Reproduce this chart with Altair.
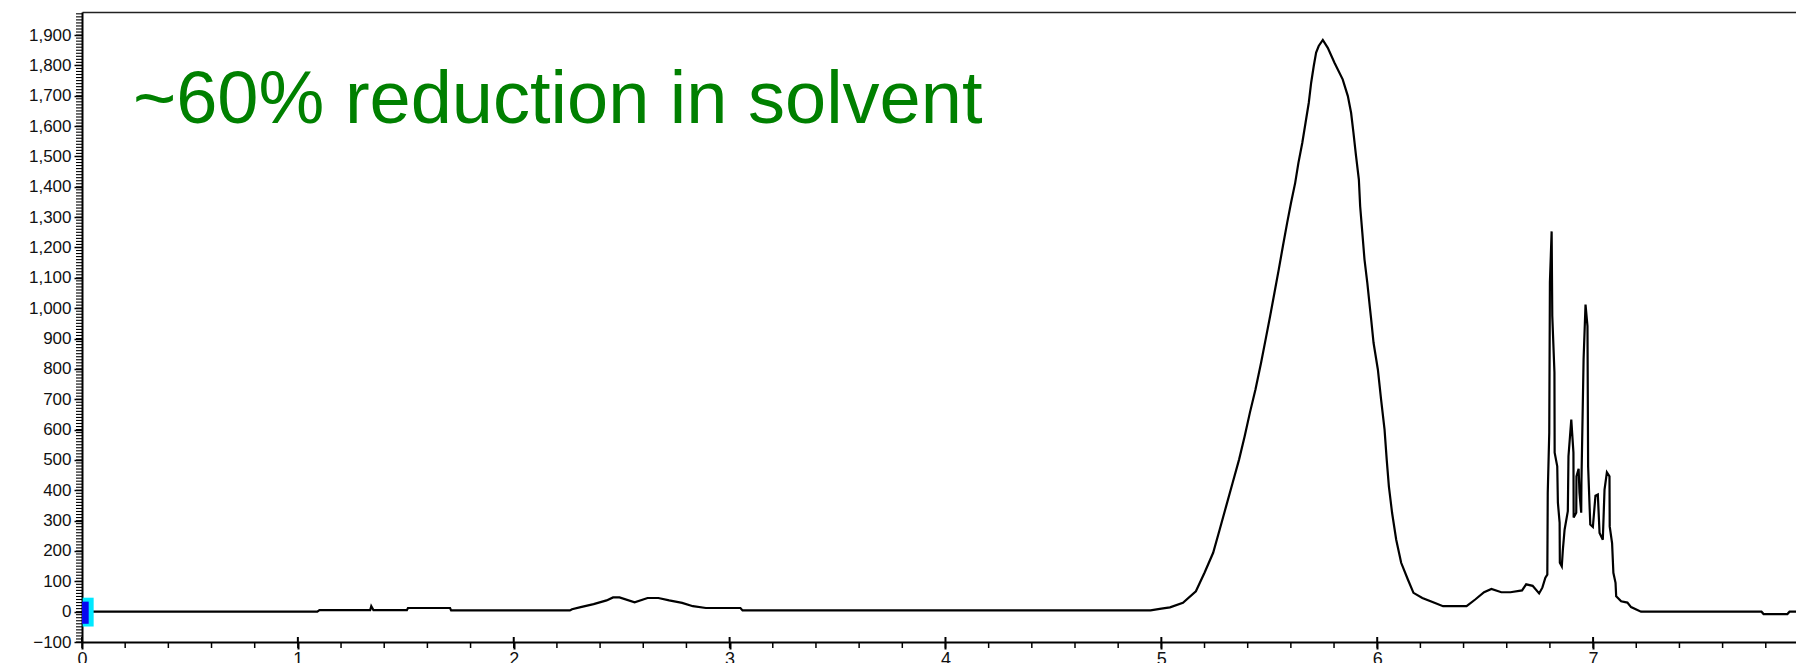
import altair as alt
import pandas as pd

# ---- data ----
ret_time = [
    0.0, 1.09, 1.10, 1.335, 1.34, 1.35, 1.505, 1.51, 1.705, 1.71,
    2.26, 2.27, 2.31, 2.37, 2.43, 2.46, 2.49, 2.56, 2.62, 2.67,
    2.72, 2.78, 2.83, 2.89, 3.05, 3.06, 4.95, 5.00, 5.04, 5.10,
    5.16, 5.20, 5.24, 5.27, 5.30, 5.33, 5.36, 5.386, 5.41, 5.436,
    5.462, 5.486, 5.504, 5.524, 5.544, 5.563, 5.583, 5.601, 5.620, 5.635,
    5.653, 5.668, 5.683, 5.694, 5.706, 5.717, 5.729, 5.748, 5.771, 5.802,
    5.840, 5.864, 5.879, 5.890, 5.902, 5.915, 5.921, 5.931, 5.941, 5.954,
    5.967, 5.972, 5.983, 6.003, 6.018, 6.034, 6.044, 6.054, 6.069, 6.088,
    6.111, 6.142, 6.168, 6.209, 6.265, 6.305, 6.414, 6.454, 6.495, 6.529,
    6.575, 6.617, 6.671, 6.690, 6.72, 6.75, 6.765, 6.779, 6.788, 6.790,
    6.797, 6.800, 6.808, 6.811, 6.821, 6.822, 6.834, 6.837, 6.845, 6.846,
    6.855, 6.860, 6.868, 6.883, 6.886, 6.899, 6.909, 6.910, 6.922, 6.923,
    6.933, 6.937, 6.945, 6.946, 6.956, 6.965, 6.974, 6.977, 6.987, 6.999,
    7.011, 7.022, 7.030, 7.045, 7.053, 7.064, 7.076, 7.077, 7.088, 7.094,
    7.104, 7.107, 7.130, 7.159, 7.176, 7.222, 7.78, 7.79, 7.90, 7.91,
    7.94,
]
signal = [
    0, 0, 5, 5, 18, 5, 5, 12, 12, 4,
    4, 8, 15, 25, 37, 47, 47, 31, 45, 45,
    37, 29, 18, 12, 12, 4, 4, 10, 14, 29,
    67, 128, 194, 270, 347, 424, 501, 578, 655, 732,
    820, 908, 974, 1051, 1128, 1204, 1282, 1348, 1413, 1479,
    1545, 1611, 1677, 1743, 1798, 1842, 1864, 1884, 1858, 1809,
    1754, 1699, 1644, 1578, 1501, 1424, 1336, 1249, 1161, 1084,
    996, 963, 886, 798, 699, 600, 501, 413, 325, 237,
    161, 106, 62, 45, 29, 18, 18, 40, 64, 75,
    64, 64, 70, 90, 85, 60, 79, 112, 122, 392,
    590, 1085, 1253, 974, 788, 524, 479, 359, 293, 161,
    149, 204, 270, 331, 512, 633, 524, 310, 326, 446,
    471, 392, 326, 425, 831, 1012, 941, 479, 287, 279,
    382, 386, 259, 237, 402, 459, 446, 281, 226, 128,
    95, 51, 34, 30, 15, 0, 0, -8, -8, 0,
    0,
]

# marker boxes at the origin (data units)
marker_x = [0.003, 0.0]
marker_x2 = [0.054, 0.031]
marker_y = [-49, -40]
marker_y2 = [46, 33]

x_major = [0, 1, 2, 3, 4, 5, 6, 7]
x_minor = [round(i * 0.2, 1) for i in range(0, 40)]
y_major = list(range(-100, 2000, 100))
y_minor = list(range(-100, 1980, 10))

annotation = ["~60% reduction in solvent"]

df = pd.DataFrame({"t": ret_time, "v": signal})
outer = pd.DataFrame({"x": [marker_x[0]], "x2": [marker_x2[0]], "y": [marker_y[0]], "y2": [marker_y2[0]]})
inner = pd.DataFrame({"x": [marker_x[1]], "x2": [marker_x2[1]], "y": [marker_y[1]], "y2": [marker_y2[1]]})
ann = pd.DataFrame({"label": annotation})
xminor_df = pd.DataFrame({"t": x_minor})
xmajor_df = pd.DataFrame({"t": x_major})
yminor_df = pd.DataFrame({"v": y_minor})

FONT = "Liberation Sans, Arial, sans-serif"
W, H = 1714, 630

xs = alt.Scale(domain=[0, 7.94], nice=False, zero=False)
ys = alt.Scale(domain=[-100, 1976], nice=False, zero=False)

main = alt.Chart(df).mark_line(color="black", strokeWidth=2.2).encode(
    x=alt.X("t:Q", scale=xs, axis=alt.Axis(
        orient="bottom", values=x_major, format="d", title=None, grid=False,
        domain=True, domainColor="black", domainWidth=2,
        ticks=True, tickColor="black", tickWidth=2, tickSize=7,
        labels=True, labelFont=FONT, labelFontSize=18, labelColor="#111111",
        labelPadding=1, labelFlush=False, labelOverlap=False)),
    y=alt.Y("v:Q", scale=ys, axis=alt.Axis(
        orient="left", values=y_major, format=",d", title=None, grid=False,
        domain=True, domainColor="black", domainWidth=2,
        ticks=True, tickColor="black", tickWidth=1.5, tickSize=8,
        labels=True, labelFont=FONT, labelFontSize=17, labelColor="#111111",
        labelPadding=3, labelOverlap=False, labelFlush=False)),
)

# frame line along the top of the plot
top = alt.Chart(df).mark_line(strokeOpacity=0).encode(
    x=alt.X("t:Q", scale=xs, axis=alt.Axis(
        orient="top", values=[0], title=None, grid=False, domain=True,
        domainColor="#222222", domainWidth=1.5, labels=False, ticks=False)),
    y=alt.Y("v:Q", scale=ys, axis=None),
)

# minor ticks (y every 10, x every 0.2) and major x ticks crossing the axis
y_minor_ticks = alt.Chart(yminor_df).mark_rule(color="black", strokeWidth=1.1).encode(
    y=alt.Y("v:Q", scale=ys, axis=None), x=alt.value(-6), x2=alt.value(0)
)
x_minor_ticks = alt.Chart(xminor_df).mark_rule(color="black", strokeWidth=1.5).encode(
    x=alt.X("t:Q", scale=xs, axis=None), y=alt.value(H), y2=alt.value(H + 6)
)
x_cross_ticks = alt.Chart(xmajor_df).mark_rule(color="black", strokeWidth=2).encode(
    x=alt.X("t:Q", scale=xs, axis=None), y=alt.value(H - 5), y2=alt.value(H)
)

box_outer = alt.Chart(outer).mark_rect(color="#00E8FF").encode(
    x=alt.X("x:Q", scale=xs, axis=None), x2="x2:Q",
    y=alt.Y("y:Q", scale=ys, axis=None), y2="y2:Q",
)
box_inner = alt.Chart(inner).mark_rect(color="#0808F0").encode(
    x=alt.X("x:Q", scale=xs, axis=None), x2="x2:Q",
    y=alt.Y("y:Q", scale=ys, axis=None), y2="y2:Q",
)

text = alt.Chart(ann).mark_text(
    align="left", baseline="alphabetic", font=FONT, fontSize=74, color="#008000"
).encode(text="label:N", x=alt.value(51), y=alt.value(111))

chart = alt.layer(
    main, top, y_minor_ticks, x_minor_ticks, x_cross_ticks, box_outer, box_inner, text
).resolve_axis(x="independent", y="independent").properties(
    width=W, height=H,
    padding={"left": 82, "top": 12, "right": 0, "bottom": 21},
    autosize=alt.AutoSizeParams(type="none"),
    background="white",
).configure_view(strokeWidth=0)

chart.save("out.html", embed_options={"renderer": "svg", "actions": False})
